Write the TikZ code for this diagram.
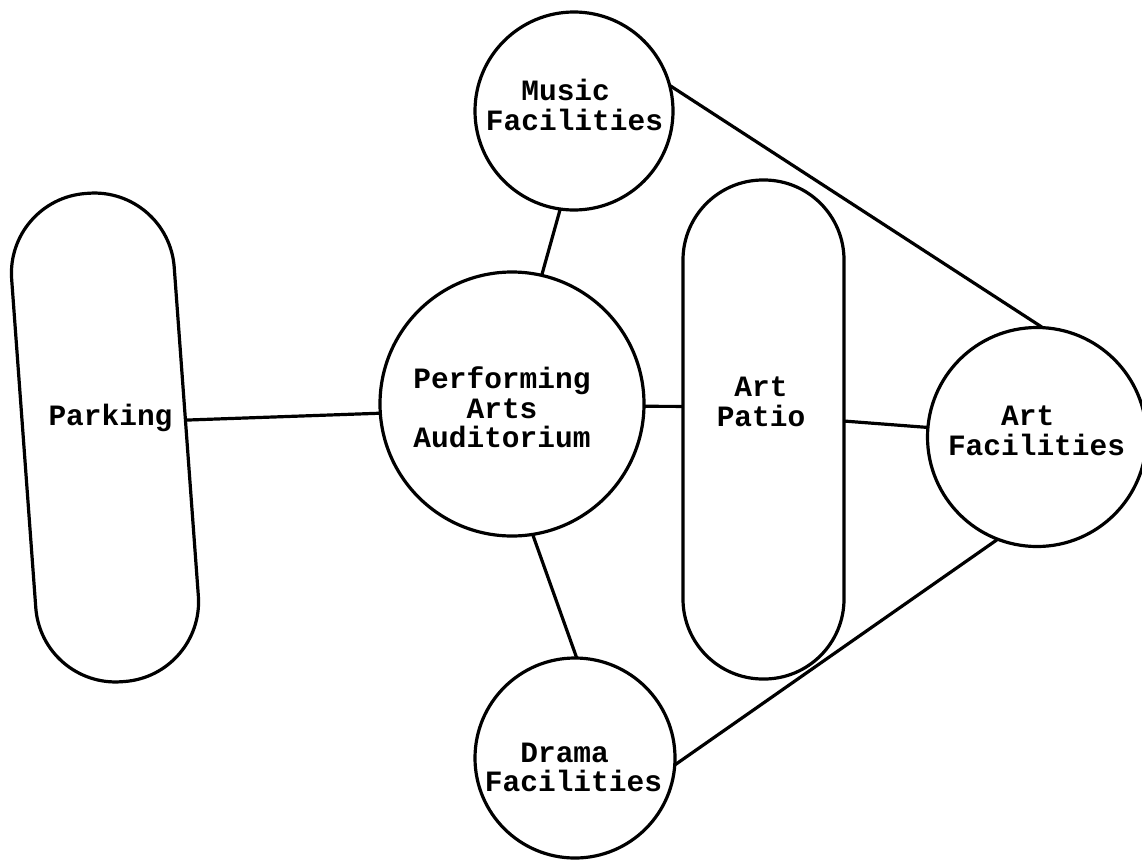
\documentclass[tikz,border=0pt]{standalone}
\usepackage{fontspec}
\setmonofont{Liberation Mono}
\begin{document}
\begin{tikzpicture}[x=1pt,y=-1pt,
  every node/.style={inner sep=0pt, outer sep=0pt},
  room/.style={circle, draw, line width=3.2pt, minimum size=#1},
  strip/.style={rectangle, draw, line width=3.2pt, rounded corners=80pt},
  caption/.style={font=\ttfamily\bfseries\fontsize{29.5}{29.5}\selectfont, align=center},
  link/.style={line width=3.2pt}]
\useasboundingbox (0,0) rectangle (1142,859);

% long rounded strips
\node[strip, minimum width=163pt, minimum height=489.6pt, rotate=4.2] (parking) at (105,437.5) {};
\node[caption] (parking-t) at (110.5,418) {Parking};
\node[strip, minimum width=161pt, minimum height=499pt] (patio) at (763.5,429.5) {};
\node[caption] (patio-t) at (761,402) {Art\\Patio};

% circular facilities
\node[room=198pt] (music) at (574,111) {};
\node[caption, align=left] (music-t) at (574.5,105) {\hspace*{1.2em}Music\\Facilities};
\node[room=264pt] (aud) at (512,404) {};
\node[caption] (aud-t) at (502,407.5) {Performing\\Arts\\Auditorium};
\node[room=200pt] (drama) at (575,758) {};
\node[caption, align=left] (drama-t) at (573.5,767.5) {\hspace*{1.2em}Drama\\Facilities};
\node[room=219pt] (artf) at (1037,437) {};
\node[caption, align=left] (artf-t) at (1036.5,431) {\hspace*{1.8em}Art\\Facilities};

% connections
\draw[link] (parking.8) -- (aud.184);
\draw[link] (music.-98) -- (aud.77);
\draw[link] (aud.-1) -- (patio.164);
\draw[link] (aud.-81) -- (drama.89);
\draw[link] (patio.6) -- (artf.175);
\draw[link] (music.15) -- (artf.87);
\draw[link] (drama.-4) -- (artf.-111);
\end{tikzpicture}
\end{document}
